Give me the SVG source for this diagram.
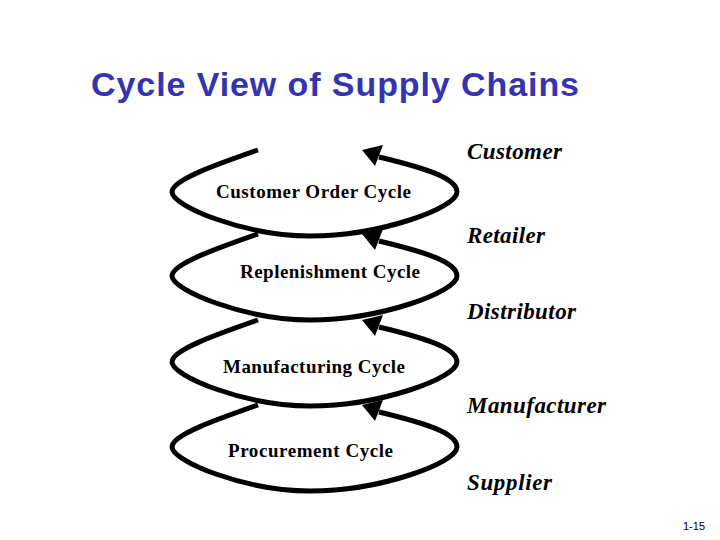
<svg xmlns="http://www.w3.org/2000/svg" xmlns:xlink="http://www.w3.org/1999/xlink" width="720" height="540" viewBox="0 0 720 540">
  <style>
    .title { font-family: "Liberation Sans", Arial, sans-serif; font-weight: bold; font-size: 34px; fill: #3434B0; }
    .stage { font-family: "Liberation Serif", "Times New Roman", serif; font-weight: bold; font-style: italic; font-size: 23px; fill: #000; }
    .cyc { font-family: "Liberation Serif", "Times New Roman", serif; font-weight: bold; font-size: 19px; fill: #000; }
    .loop { fill: none; stroke: #000; stroke-width: 5; stroke-linecap: butt; }
    .head { fill: #000; stroke: none; }
    .pg { font-family: "Liberation Sans", Arial, sans-serif; font-size: 11px; fill: #000; }
  </style>
  <defs>
    <g id="cycle">
      <path class="loop" d="M 258 150 C 215 165 172 180 172 192 C 172 206 245 236 310 236 C 380 236 457 208 457 192 C 457 178 425 168 379 157"/>
      <path class="head" d="M 362 150 L 383 145 L 375 166 Z"/>
    </g>
  </defs>
  <rect x="0" y="0" width="720" height="540" fill="#ffffff"/>
  <text class="title" x="91" y="96" textLength="488" lengthAdjust="spacing">Cycle View of Supply Chains</text>

  <g id="connectors">
    <g id="customer-order-cycle">
      <use xlink:href="#cycle" href="#cycle"/>
      <text class="cyc" x="216" y="198" textLength="195">Customer Order Cycle</text>
    </g>
    <g id="replenishment-cycle">
      <use xlink:href="#cycle" href="#cycle" transform="translate(0,84)"/>
      <text class="cyc" x="240" y="278" textLength="180">Replenishment Cycle</text>
    </g>
    <g id="manufacturing-cycle">
      <use xlink:href="#cycle" href="#cycle" transform="translate(0,170)"/>
      <text class="cyc" x="223" y="373" textLength="182">Manufacturing Cycle</text>
    </g>
    <g id="procurement-cycle">
      <use xlink:href="#cycle" href="#cycle" transform="translate(0,255)"/>
      <text class="cyc" x="228" y="457" textLength="165">Procurement Cycle</text>
    </g>
  </g>

  <g id="customer"><text class="stage" x="467" y="159" textLength="95">Customer</text></g>
  <g id="retailer"><text class="stage" x="467" y="243" textLength="78">Retailer</text></g>
  <g id="distributor"><text class="stage" x="467" y="319" textLength="109">Distributor</text></g>
  <g id="manufacturer"><text class="stage" x="467" y="413" textLength="139">Manufacturer</text></g>
  <g id="supplier"><text class="stage" x="467" y="490" textLength="85">Supplier</text></g>

  <text class="pg" x="683" y="530">1-15</text>
</svg>
